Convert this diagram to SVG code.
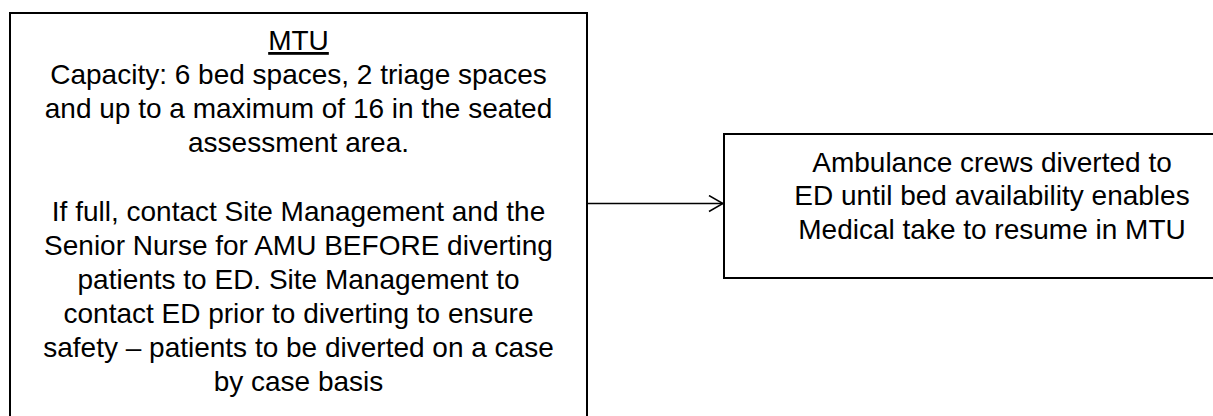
<svg xmlns="http://www.w3.org/2000/svg" width="1213" height="416" viewBox="0 0 1213 416">
  <style>
    .box { fill: #ffffff; stroke: #000000; stroke-width: 2; }
    .txt { font-family: "Liberation Sans", Arial, sans-serif; font-size: 28px; fill: #000000; text-anchor: middle; }
    .conn { fill: none; stroke: #000000; stroke-width: 1.5; }
  </style>
  <defs>
    <marker id="open-arrow" markerWidth="16" markerHeight="18" refX="15" refY="9" orient="auto" markerUnits="userSpaceOnUse">
      <path d="M1,1 L15,9 L1,17" fill="none" stroke="#000000" stroke-width="1.5"/>
    </marker>
  </defs>
  <rect width="1213" height="416" fill="#ffffff"/>

  <g id="connectors">
    <line class="conn" x1="587" y1="203.5" x2="723" y2="203.5" marker-end="url(#open-arrow)"/>
  </g>

  <g id="mtu">
    <rect class="box" x="10" y="13" width="577" height="420"/>
    <text class="txt" x="298.5" y="50" text-decoration="underline">MTU</text>
    <text class="txt" x="298.5" y="84">Capacity: 6 bed spaces, 2 triage spaces</text>
    <text class="txt" x="298.5" y="118">and up to a maximum of 16 in the seated</text>
    <text class="txt" x="298.5" y="152">assessment area.</text>
    <text class="txt" x="298.5" y="220.5">If full, contact Site Management and the</text>
    <text class="txt" x="298.5" y="254.5">Senior Nurse for AMU BEFORE diverting</text>
    <text class="txt" x="298.5" y="288.5">patients to ED. Site Management to</text>
    <text class="txt" x="298.5" y="322.5">contact ED prior to diverting to ensure</text>
    <text class="txt" x="298.5" y="357">safety – patients to be diverted on a case</text>
    <text class="txt" x="298.5" y="391">by case basis</text>
  </g>

  <g id="ambulance">
    <rect class="box" x="724" y="134" width="540" height="144"/>
    <text class="txt" x="992" y="171.5">Ambulance crews diverted to</text>
    <text class="txt" x="992" y="205">ED until bed availability enables</text>
    <text class="txt" x="992" y="238.5">Medical take to resume in MTU</text>
  </g>
</svg>
